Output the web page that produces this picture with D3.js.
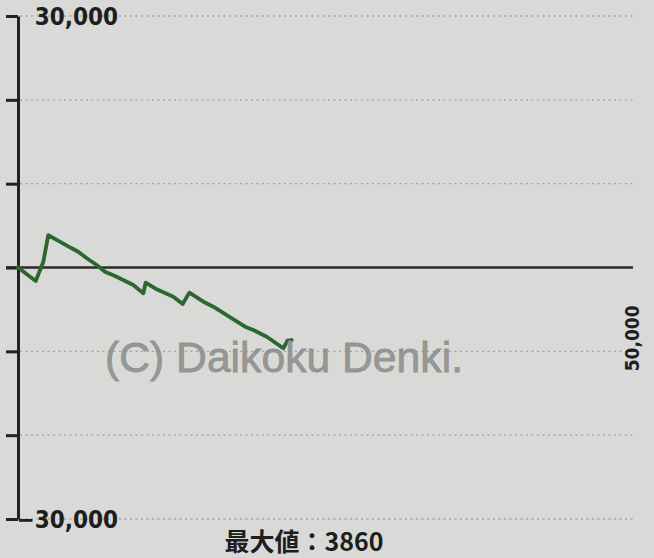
<!DOCTYPE html>
<html><head><meta charset="utf-8">
<script src="https://cdn.jsdelivr.net/npm/d3@7"></script>
<style>
html,body{margin:0;padding:0;background:#d9d9d7;}
svg{display:block;}
</style></head>
<body>
<script>
// ---- data ----
const games = [0, 1440, 2060, 2460, 4370, 4900, 5590, 6400, 7070, 7890, 9370, 10190, 10380, 11280, 12630, 13390, 13930, 15070, 15880, 16970, 18460, 19130, 20220, 21570, 21900, 22250];
const diffs = [0, -1610, 690, 3860, 2290, 1880, 1100, 300, -500, -1010, -2090, -3080, -1810, -2600, -3480, -4350, -3000, -4080, -4680, -5670, -7060, -7460, -8260, -9640, -8730, -8650];
const yTickValues = [-30000, -20000, -10000, 0, 10000, 20000, 30000];
const yLabelValues = [30000, -30000];
const xMaxLabel = 50000;
const maxValue = 3860;
const watermark = "(C) Daikoku Denki.";

const W = 654, H = 558;
const svg = d3.select("body").append("svg").attr("width", W).attr("height", H);
svg.append("rect").attr("width", W).attr("height", H).attr("fill", "#d9d9d7");

const x = d3.scaleLinear().domain([0, xMaxLabel]).range([18, 633]);
const y = d3.scaleLinear().domain([-30000, 30000]).range([519, 16]);

// grid
svg.append("g").selectAll("line").data(yTickValues.filter(v => v !== 0)).join("line")
  .attr("x1", 20).attr("x2", 633)
  .attr("y1", d => y(d)).attr("y2", d => y(d))
  .attr("stroke", "#a2a2a0").attr("stroke-width", 1.3).attr("stroke-dasharray", "2,3.5");

// zero line
svg.append("line").attr("x1", 6).attr("x2", 633).attr("y1", y(0)).attr("y2", y(0))
  .attr("stroke", "#2a2a2a").attr("stroke-width", 2.5);

// y axis
const ax = svg.append("g").attr("transform", `translate(${x(0)},0)`)
  .call(d3.axisLeft(y).tickValues(yTickValues).tickSize(12).tickSizeOuter(0).tickFormat(""));
ax.select(".domain").attr("stroke", "#222").attr("stroke-width", 3);
ax.selectAll(".tick line").attr("stroke", "#222").attr("stroke-width", 3);

// y labels
const fmt = d3.format(",");
svg.append("g").selectAll("text").data(yLabelValues).join("text")
  .attr("x", 118).attr("y", d => y(d)).attr("dy", "0.36em")
  .attr("text-anchor", "end")
  .attr("font-family", "'DejaVu Sans Condensed', 'DejaVu Sans', sans-serif")
  .attr("font-stretch", "condensed")
  .attr("font-weight", "bold").attr("font-size", 24).attr("fill", "#1e1e1e")
  .text(d => fmt(d));

// x max label (rotated)
svg.append("text")
  .attr("transform", `translate(${x(xMaxLabel) - 1},${y(-10000) - 13}) rotate(-90)`)
  .attr("text-anchor", "middle").attr("dy", "0.36em")
  .attr("font-family", "'DejaVu Sans Condensed', 'DejaVu Sans', sans-serif")
  .attr("font-weight", "bold").attr("font-size", 20).attr("fill", "#1e1e1e")
  .attr("textLength", 66).attr("lengthAdjust", "spacingAndGlyphs")
  .text(fmt(xMaxLabel));

// line
const pts = games.map((g, i) => [g, diffs[i]]);
svg.append("path").datum(pts)
  .attr("fill", "none").attr("stroke", "#2c672f").attr("stroke-width", 3.8)
  .attr("stroke-linejoin", "round").attr("stroke-linecap", "round")
  .attr("d", d3.line().x(d => x(d[0])).y(d => y(d[1])));

// watermark
svg.append("text").attr("x", 105).attr("y", 372)
  .attr("font-family", "'Liberation Sans', Arial, sans-serif")
  .attr("font-size", 42).attr("fill", "#8e8e8c").attr("fill-opacity", 0.9)
  .attr("stroke", "#8e8e8c").attr("stroke-width", 0.8).attr("stroke-opacity", 0.9)
  .attr("textLength", 358).attr("lengthAdjust", "spacingAndGlyphs")
  .text(watermark);

// max value label
svg.append("text").attr("x", 304).attr("y", 551)
  .attr("text-anchor", "middle")
  .attr("font-family", "'Noto Sans CJK JP', sans-serif")
  .attr("font-weight", "bold").attr("font-size", 25).attr("fill", "#1e1e1e")
  .text("最大値：" + maxValue);
</script>
</body></html>
